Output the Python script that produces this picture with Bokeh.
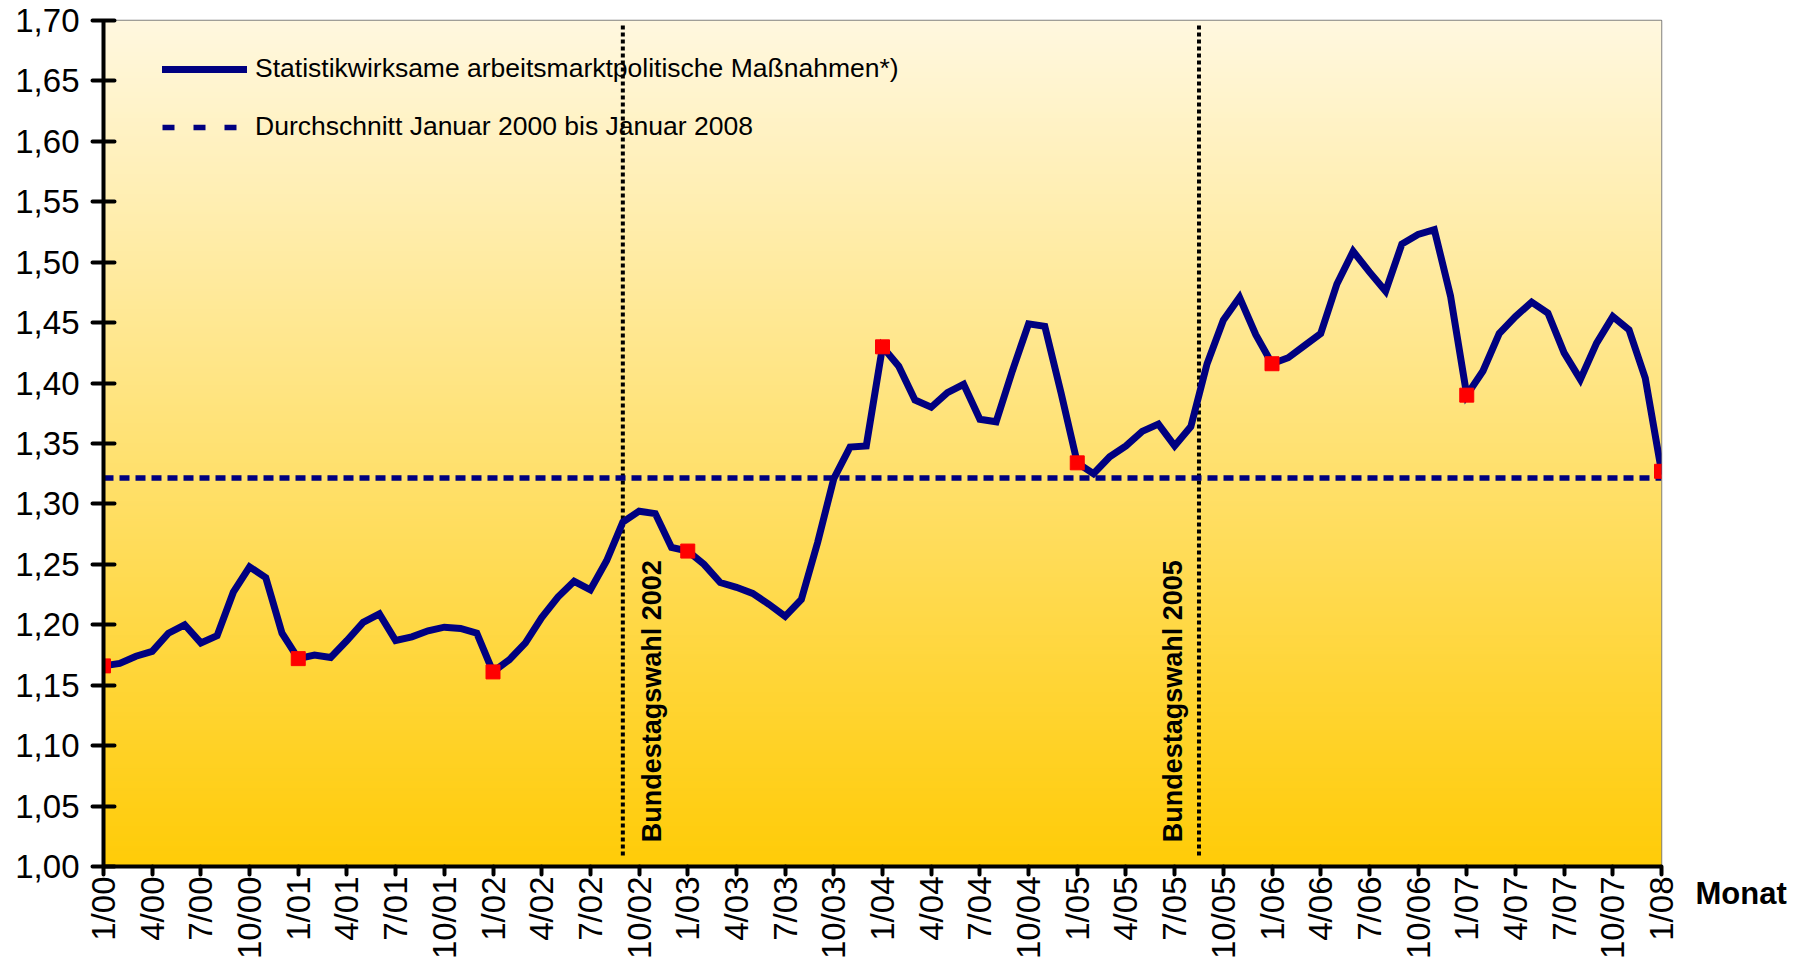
import numpy as np
from math import pi
from bokeh.plotting import figure
from bokeh.models import FixedTicker, Range1d, Legend, LegendItem, LinearAxis
from bokeh.embed import file_html
from bokeh.resources import INLINE
from bokeh.core.properties import value

# ---------------- data ----------------
months = list(range(97))  # 0 = Jan 2000 ... 96 = Jan 2008
values = [
    1.166, 1.168, 1.174, 1.178, 1.193, 1.200, 1.185, 1.191, 1.227, 1.248, 1.239, 1.193,
    1.172, 1.175, 1.173, 1.187, 1.202, 1.209, 1.187, 1.190, 1.195, 1.198, 1.197, 1.193,
    1.161, 1.171, 1.185, 1.206, 1.223, 1.236, 1.229, 1.253, 1.285, 1.294, 1.292, 1.264,
    1.261, 1.250, 1.235, 1.231, 1.226, 1.217, 1.207, 1.221, 1.268, 1.321, 1.347, 1.348,
    1.430, 1.414, 1.386, 1.380, 1.392, 1.399, 1.370, 1.368, 1.410, 1.449, 1.447, 1.392,
    1.334, 1.325, 1.339, 1.348, 1.360, 1.366, 1.348, 1.364, 1.416, 1.452, 1.471, 1.440,
    1.416, 1.421, 1.431, 1.441, 1.482, 1.509, 1.492, 1.476, 1.515, 1.523, 1.527, 1.472,
    1.390, 1.410, 1.441, 1.455, 1.467, 1.458, 1.425, 1.403, 1.433, 1.455, 1.444, 1.404,
    1.327,
]
average = 1.3215
january_idx = months[::12]
january_vals = [values[i] for i in january_idx]

y_ticks = [1.00, 1.05, 1.10, 1.15, 1.20, 1.25, 1.30, 1.35, 1.40, 1.45, 1.50, 1.55, 1.60, 1.65, 1.70]
y_tick_labels = ["1,00", "1,05", "1,10", "1,15", "1,20", "1,25", "1,30", "1,35",
                 "1,40", "1,45", "1,50", "1,55", "1,60", "1,65", "1,70"]
x_ticks = months[::3]
x_tick_labels = ["1/00", "4/00", "7/00", "10/00", "1/01", "4/01", "7/01", "10/01",
                 "1/02", "4/02", "7/02", "10/02", "1/03", "4/03", "7/03", "10/03",
                 "1/04", "4/04", "7/04", "10/04", "1/05", "4/05", "7/05", "10/05",
                 "1/06", "4/06", "7/06", "10/06", "1/07", "4/07", "7/07", "10/07", "1/08"]
x_axis_title = "Monat"

election_x = [32, 67.5]
election_text = ["Bundestagswahl 2002", "Bundestagswahl 2005"]
election_text_x = [33.77, 65.92]
election_line_bottom = 1.009
election_line_top = 1.697
election_text_y = 1.02

legend_labels = ["Statistikwirksame arbeitsmarktpolitische Maßnahmen*)",
                 "Durchschnitt Januar 2000 bis Januar 2008"]

FONT = "Liberation Sans"
NAVY = "#000080"

# ---------------- figure ----------------
p = figure(width=1800, height=962, output_backend="svg", toolbar_location=None,
           x_range=Range1d(0, 96), y_range=Range1d(1.0, 1.7),
           min_border_left=103, min_border_top=20, min_border_right=139, min_border_bottom=94)
p.background_fill_color = "white"
p.border_fill_color = "white"
p.outline_line_color = "#808080"
p.outline_line_width = 1.5
p.xgrid.visible = False
p.ygrid.visible = False

# gradient background (vertical: light cream at top -> gold at bottom)
N = 424
top_c = np.array([255, 248, 224], dtype=float)
bot_c = np.array([255, 204, 8], dtype=float)
t = np.linspace(0, 1, N)[:, None]
cols = bot_c * (1 - t) + top_c * t
img = np.empty((N, 1), dtype=np.uint32)
view = img.view(dtype=np.uint8).reshape((N, 1, 4))
view[:, 0, 0] = cols[:, 0]
view[:, 0, 1] = cols[:, 1]
view[:, 0, 2] = cols[:, 2]
view[:, 0, 3] = 255
p.image_rgba(image=[img], x=0, y=1.0, dw=96, dh=0.7)

# election lines
p.segment(x0=election_x, y0=election_line_bottom, x1=election_x, y1=election_line_top,
          line_color="black", line_width=4, line_dash="4 3")
p.text(x=election_text_x, y=election_text_y, text=election_text, angle=pi / 2,
       text_align="left", text_baseline="middle", text_font=value(FONT),
       text_font_style="bold", text_font_size="27px", text_color="black")

# average line
avg_r = p.line(x=[months[0], months[-1]], y=[average, average], line_color=NAVY,
               line_width=5.5, line_dash="10 6")
# legend swatch for the average (coarser dash as in the original legend);
# a single-point line draws nothing in the plot itself
avg_swatch = p.line(x=[months[0]], y=[average], line_color=NAVY, line_width=5.5,
                    line_dash="12 19")

# main series
main_r = p.line(x=months, y=values, line_color=NAVY, line_width=7, line_join="miter",
                line_cap="round")
p.scatter(x=january_idx, y=january_vals, marker="square", size=14,
          fill_color="red", line_color="red")

# axes
p.xaxis.ticker = FixedTicker(ticks=x_ticks)
p.xaxis.major_label_overrides = {k: v for k, v in zip(x_ticks, x_tick_labels)}
p.xaxis.major_label_orientation = pi / 2
p.yaxis.ticker = FixedTicker(ticks=y_ticks)
p.yaxis.major_label_overrides = {k: v for k, v in zip(y_ticks, y_tick_labels)}

for ax in (p.xaxis[0], p.yaxis[0]):
    ax.axis_line_width = 4
    ax.axis_line_color = "black"
    ax.major_tick_line_width = 4
    ax.major_tick_line_color = "black"
    ax.major_tick_line_cap = "round"
    ax.minor_tick_line_color = None
    ax.major_label_text_font = FONT
    ax.major_label_text_font_size = "33px"
    ax.major_label_text_color = "black"

p.yaxis.major_tick_in = 11
p.yaxis.major_tick_out = 11
p.yaxis.major_label_standoff = 13
p.xaxis.major_tick_in = 0
p.xaxis.major_tick_out = 8
p.xaxis.major_label_standoff = 2

# axis title "Monat" at the right end of the x axis (via an unlined right axis)
p.extra_y_ranges = {"monat": Range1d(0, 1)}
monat_axis = LinearAxis(y_range_name="monat", ticker=FixedTicker(ticks=[0]),
                        major_label_overrides={0: "\n" + x_axis_title})
monat_axis.axis_line_color = None
monat_axis.major_tick_line_color = None
monat_axis.minor_tick_line_color = None
monat_axis.major_tick_in = 0
monat_axis.major_tick_out = 0
monat_axis.major_label_standoff = 34
monat_axis.major_label_text_font = FONT
monat_axis.major_label_text_font_style = "bold"
monat_axis.major_label_text_font_size = "31px"
monat_axis.major_label_text_line_height = 1.55
monat_axis.major_label_text_color = "black"
p.add_layout(monat_axis, "right")

# legend
legend = Legend(items=[LegendItem(label=legend_labels[0], renderers=[main_r]),
                       LegendItem(label=legend_labels[1], renderers=[avg_swatch])],
                location=(59, 724), orientation="vertical")
legend.background_fill_alpha = 0
legend.border_line_alpha = 0
legend.padding = 0
legend.margin = 0
legend.spacing = 27
legend.glyph_height = 30
legend.glyph_width = 85
legend.label_height = 30
legend.label_standoff = 8
legend.label_text_font = FONT
legend.label_text_font_size = "26.5px"
legend.label_text_color = "black"
p.add_layout(legend)

open("out.html", "w").write(file_html(p, INLINE))
